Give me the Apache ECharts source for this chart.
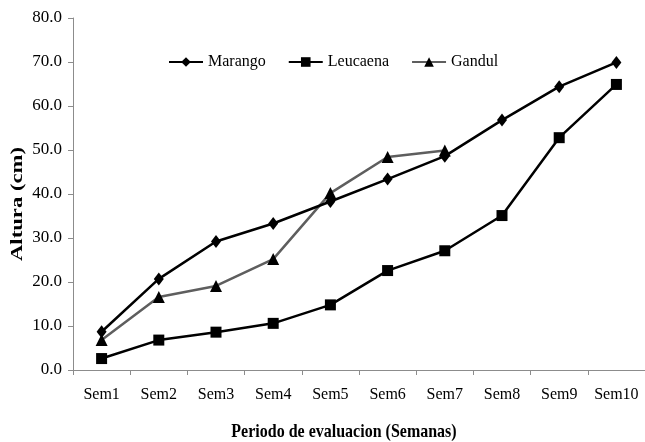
<!DOCTYPE html>
<html><head><meta charset="utf-8">
<script src="https://cdn.jsdelivr.net/npm/echarts@6/dist/echarts.min.js"></script>
<style>html,body{margin:0;padding:0;background:#fff}#c{width:645px;height:442px}</style>
</head><body><div id="c"></div>
<script>
const categories = ['Sem1','Sem2','Sem3','Sem4','Sem5','Sem6','Sem7','Sem8','Sem9','Sem10'];
const marango = [8.7, 20.7, 29.2, 33.3, 38.3, 43.4, 48.6, 56.8, 64.4, 69.9];
const leucaena = [2.6, 6.8, 8.6, 10.6, 14.8, 22.6, 27.1, 35.1, 52.8, 64.9];
const gandul = [6.8, 16.6, 19.1, 25.2, 40.2, 48.4, 49.9, null, null, null];
const yTicks = [0, 10, 20, 30, 40, 50, 60, 70, 80];

const font = '"Liberation Serif", "Times New Roman", serif';
const chart = echarts.init(document.getElementById('c'), null, {renderer:'canvas'});
chart.setOption({
  animation: false,
  backgroundColor: '#fff',
  textStyle: {fontFamily: font, color: '#000'},
  grid: {left: 73, top: 18, width: 578, height: 352, containLabel: false},
  legend: {
    left: 163, top: 49, itemGap: 22, itemWidth: 34, itemHeight: 12,
    textStyle: {fontFamily: font, fontSize: 16, color: '#000'},
    data: ['Marango', 'Leucaena', 'Gandul']
  },
  xAxis: {
    type: 'category', data: categories, boundaryGap: true,
    axisLine: {lineStyle: {color: '#8c8c8c', width: 1}},
    axisTick: {show: true, length: 5, interval: 0, lineStyle: {color: '#8c8c8c'}},
    axisLabel: {fontFamily: font, fontSize: 16, color: '#000', margin: 17, interval: 0}
  },
  yAxis: {
    type: 'value', min: yTicks[0], max: yTicks[yTicks.length-1], interval: 10,
    splitLine: {show: false},
    axisLine: {show: true, lineStyle: {color: '#8c8c8c', width: 1}},
    axisTick: {show: true, length: 5, lineStyle: {color: '#8c8c8c'}},
    axisLabel: {fontFamily: font, fontSize: 17, color: '#000', margin: 11,
      formatter: v => v.toFixed(1)}
  },
  graphic: [
    {type: 'text', x: 344, y: 432, scaleY: 1.15, style: {text: 'Periodo de evaluacion (Semanas)', font: 'bold 16px ' + font, fill: '#000', align: 'center', verticalAlign: 'middle'}},
    {type: 'text', x: 18, y: 204, rotation: Math.PI/2, scaleX: 1.42, style: {text: 'Altura (cm)', font: 'bold 16px ' + font, fill: '#000', align: 'center', verticalAlign: 'middle'}}
  ],
  series: [
    {name: 'Gandul', type: 'line', data: gandul, symbol: 'triangle', symbolSize: 12,
      lineStyle: {color: '#5e5e5e', width: 2.5}, itemStyle: {color: '#000'}, z: 2},
    {name: 'Leucaena', type: 'line', data: leucaena, symbol: 'rect', symbolSize: 11,
      lineStyle: {color: '#000', width: 2.5}, itemStyle: {color: '#000'}, z: 3},
    {name: 'Marango', type: 'line', data: marango, symbol: 'diamond', symbolSize: [10, 13],
      lineStyle: {color: '#000', width: 2.5}, itemStyle: {color: '#000'}, z: 4}
  ]
});
</script></body></html>
